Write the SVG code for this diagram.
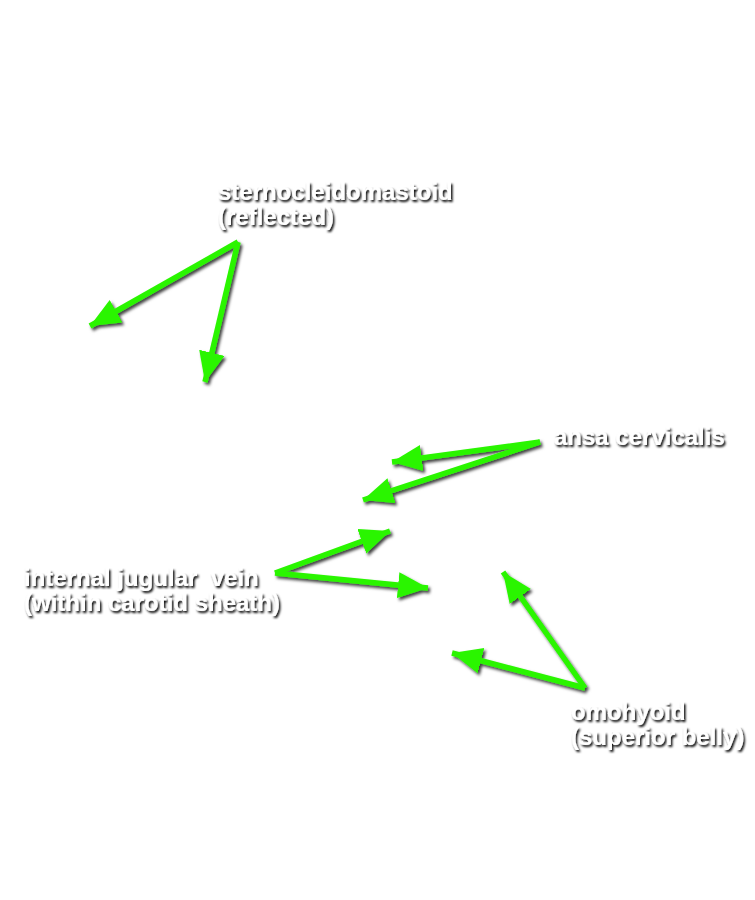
<svg xmlns="http://www.w3.org/2000/svg" width="755" height="900" viewBox="0 0 755 900">
<defs>
<filter id="sh" x="-20%" y="-20%" width="140%" height="140%">
<feDropShadow dx="2" dy="2.5" stdDeviation="1.5" flood-color="#000" flood-opacity="0.75"/>
</filter>
<filter id="tsh" x="-10%" y="-30%" width="120%" height="160%">
<feDropShadow dx="1.5" dy="2" stdDeviation="1.1" flood-color="#000" flood-opacity="1"/>
</filter>
<marker id="ah" markerUnits="userSpaceOnUse" markerWidth="34" markerHeight="28" refX="30" refY="13" orient="auto">
<path d="M0,0 L30,13 L0,26 Z" fill="#2af500"/>
</marker>
</defs>
<style>
.lbl{font-family:"Liberation Sans",Arial,sans-serif;font-weight:bold;font-size:24px;fill:#fff}
.ar{fill:none;stroke:#2af500;stroke-width:5.5;stroke-linejoin:miter;marker-end:url(#ah)}
</style>
<rect width="755" height="900" fill="#fff"/>
<g id="connectors" filter="url(#sh)">
<path class="ar" d="M238,242 L90,326"/>
<path class="ar" d="M238,242 L205,382"/>
<path class="ar" d="M540,442 L392,462"/>
<path class="ar" d="M540,442 L363,500"/>
<path class="ar" d="M275,573 L390,531"/>
<path class="ar" d="M275,573 L428,588"/>
<path class="ar" d="M585,688 L503,572"/>
<path class="ar" d="M585,688 L452,653"/>
</g>
<g id="sternocleidomastoid" filter="url(#tsh)">
<text class="lbl" x="218" y="200">sternocleidomastoid</text>
<text class="lbl" x="218" y="225">(reflected)</text>
</g>
<g id="ansa-cervicalis" filter="url(#tsh)">
<text class="lbl" x="554" y="445">ansa cervicalis</text>
</g>
<g id="internal-jugular-vein" filter="url(#tsh)">
<text class="lbl" x="24" y="586" xml:space="preserve">internal jugular  vein</text>
<text class="lbl" x="24" y="611">(within carotid sheath)</text>
</g>
<g id="omohyoid" filter="url(#tsh)">
<text class="lbl" x="571" y="720">omohyoid</text>
<text class="lbl" x="571" y="745">(superior belly)</text>
</g>
</svg>
